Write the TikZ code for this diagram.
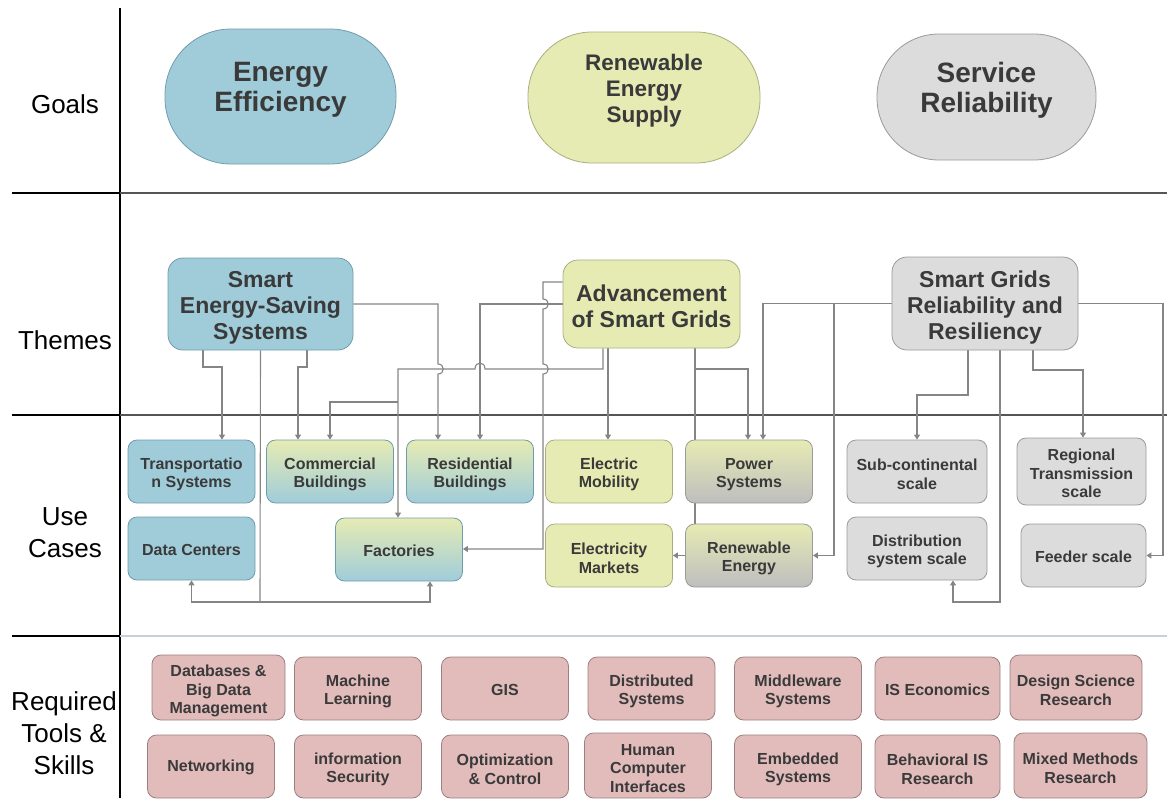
\documentclass[tikz,border=0pt]{standalone}
\usepackage{fontspec}
\setmainfont{Liberation Sans}
\usetikzlibrary{arrows.meta}
\pgfdeclarelayer{background}
\pgfsetlayers{background,main}
\definecolor{cblue}{HTML}{A0CCDA}
\definecolor{cblueB}{HTML}{6F9CAC}
\definecolor{cyel}{HTML}{E6EBB3}
\definecolor{cyelB}{HTML}{A9AE80}
\definecolor{cgray}{HTML}{DCDCDC}
\definecolor{cgrayB}{HTML}{9A9A9A}
\definecolor{cgrayD}{HTML}{BEBEBE}
\definecolor{cpink}{HTML}{E2BBBB}
\definecolor{cpinkB}{HTML}{9C8080}
\definecolor{ctext}{HTML}{3A3A3A}
\definecolor{cline}{HTML}{858585}
\definecolor{csep}{HTML}{555555}
\definecolor{csepL}{HTML}{C5D0DA}
% shape node + its text node (text shifted by #6)
\newcommand{\bx}[7]{%
  \node[#1] (#2) at (#3,#4) {};
  \node[#5] (#2t) at (#3,#4+#6) {#7};}
\begin{document}
\begin{tikzpicture}[x=1pt,y=-1pt,
  box/.style={draw, rounded corners=9pt, inner sep=0pt, minimum width=127pt, minimum height=63pt, line width=0.8pt},
  bluebox/.style={box, fill=cblue, draw=cblueB},
  yelbox/.style={box, fill=cyel, draw=cyelB},
  graybox/.style={box, fill=cgray, draw=cgrayB},
  ybbox/.style={box, top color=cyel, bottom color=cblue, draw=cblueB},
  ygbox/.style={box, top color=cyel, bottom color=cgrayD, draw=cgrayB},
  pinkbox/.style={box, fill=cpink, draw=cpinkB},
  theme/.style={box, rounded corners=15pt},
  goal/.style={draw, inner sep=0pt, line width=0.8pt},
  smalltxt/.style={inner sep=0pt, align=center, text=ctext, font=\bfseries\fontsize{16}{18.5}\selectfont},
  themetxt/.style={inner sep=0pt, align=center, text=ctext, font=\bfseries\fontsize{23}{26}\selectfont},
  goaltxt/.style={inner sep=0pt, align=center, text=ctext, font=\bfseries\fontsize{28}{30}\selectfont},
  goaltxts/.style={inner sep=0pt, align=center, text=ctext, font=\bfseries\fontsize{22.5}{26}\selectfont},
  rowlabel/.style={align=center, font=\fontsize{26}{32}\selectfont},
  conn/.style={draw=cline, line width=1.1pt, -{Triangle[length=5pt,width=6pt]}},
  link/.style={draw=cline, line width=1.1pt}
]
\useasboundingbox (0,0) rectangle (1167,798);

% row labels
\node[rowlabel] (lgoals) at (65,104) {Goals};
\node[rowlabel] (lthemes) at (65,340) {Themes};
\node[rowlabel] (luse) at (65,533) {Use\\Cases};
\node[rowlabel] (ltools) at (64,733) {Required\\Tools \&\\Skills};

% goals
\bx{goal, fill=cblue, draw=cblueB, minimum width=231pt, minimum height=135pt, rounded corners=66pt}{g1}{280.5}{96.5}{goaltxt}{-7}{Energy\\Efficiency}
\bx{goal, fill=cyel, draw=cyelB, minimum width=232pt, minimum height=131pt, rounded corners=64pt}{g2}{644}{97.5}{goaltxts}{-7}{Renewable\\Energy\\Supply}
\bx{goal, fill=cgray, draw=cgrayB, minimum width=219pt, minimum height=126pt, rounded corners=62pt}{g3}{986.5}{97}{goaltxt}{-7}{Service\\Reliability}

% themes
\bx{theme, fill=cblue, draw=cblueB, minimum width=185pt, minimum height=92pt}{t1}{260.5}{304}{themetxt}{4}{Smart\\Energy-Saving\\Systems}
\bx{theme, fill=cyel, draw=cyelB, minimum width=177pt, minimum height=88pt}{t2}{651.5}{304}{themetxt}{2}{Advancement\\of Smart Grids}
\bx{theme, fill=cgray, draw=cgrayB, minimum width=186pt, minimum height=93pt}{t3}{985}{303.5}{themetxt}{4}{Smart Grids\\Reliability and\\Resiliency}

% use cases
\bx{bluebox}{u1}{191.5}{471.5}{smalltxt}{3}{Transportatio\\n Systems}
\bx{ybbox}{u2}{330}{471.5}{smalltxt}{3}{Commercial\\Buildings}
\bx{ybbox}{u3}{470}{471.5}{smalltxt}{3}{Residential\\Buildings}
\bx{yelbox}{u4}{609}{471.5}{smalltxt}{3}{Electric\\Mobility}
\bx{ygbox}{u5}{749}{471.5}{smalltxt}{3}{Power\\Systems}
\bx{graybox, minimum width=140pt}{u6}{917}{471.5}{smalltxt}{3}{Sub-continental\\scale}
\bx{graybox, minimum width=129pt, minimum height=67pt}{u7}{1081.5}{471.5}{smalltxt}{2}{Regional\\Transmission\\scale}
\bx{bluebox}{u8}{191.5}{548.5}{smalltxt}{1}{Data Centers}
\bx{ybbox}{u9}{399}{549.5}{smalltxt}{1}{Factories}
\bx{yelbox}{u10}{609}{555.5}{smalltxt}{3}{Electricity\\Markets}
\bx{ygbox}{u11}{749}{555.5}{smalltxt}{3}{Renewable\\Energy}
\bx{graybox, minimum width=140pt}{u12}{917}{548.5}{smalltxt}{3}{Distribution\\system scale}
\bx{graybox, minimum width=125pt}{u13}{1083.5}{555.5}{smalltxt}{1}{Feeder scale}

% tools & skills
\bx{pinkbox, minimum width=133pt, minimum height=65pt}{s1}{218.5}{687.5}{smalltxt}{3.5}{Databases \&\\Big Data\\Management}
\bx{pinkbox}{s2}{358}{688.5}{smalltxt}{3}{Machine\\Learning}
\bx{pinkbox}{s3}{505}{688.5}{smalltxt}{1}{GIS}
\bx{pinkbox}{s4}{651.5}{688.5}{smalltxt}{3}{Distributed\\Systems}
\bx{pinkbox}{s5}{798}{688.5}{smalltxt}{3}{Middleware\\Systems}
\bx{pinkbox, minimum width=125pt}{s6}{937.5}{688.5}{smalltxt}{1}{IS Economics}
\bx{pinkbox, minimum width=132pt, minimum height=65pt}{s7}{1076}{687.5}{smalltxt}{3}{Design Science\\Research}
\bx{pinkbox}{s8}{211}{766.5}{smalltxt}{1}{Networking}
\bx{pinkbox}{s9}{358}{766.5}{smalltxt}{3}{information\\Security}
\bx{pinkbox}{s10}{505}{766.5}{smalltxt}{3}{Optimization\\\& Control}
\bx{pinkbox, minimum height=65pt}{s11}{648}{765.5}{smalltxt}{3}{Human\\Computer\\Interfaces}
\bx{pinkbox}{s12}{798}{766.5}{smalltxt}{3}{Embedded\\Systems}
\bx{pinkbox, minimum width=125pt}{s13}{937.5}{766.5}{smalltxt}{3}{Behavioral IS\\Research}
\bx{pinkbox, minimum width=133pt, minimum height=65pt}{s14}{1080.5}{765.5}{smalltxt}{3}{Mixed Methods\\Research}

\coordinate (tr) at (260,602);
\coordinate (j1) at (398,402);

\begin{pgfonlayer}{background}
% section lines
\draw[black, line width=2pt] (120,8) -- (120,798);
\draw[black, line width=2pt] (12,193) -- (120,193);
\draw[black, line width=2pt] (12,415) -- (120,415);
\draw[black, line width=2pt] (12,636) -- (120,636);
\draw[csep, line width=1.5pt] (120,193) -- (1167,193);
\draw[csep, line width=1.5pt] (120,415) -- (1167,415);
\draw[csepL, line width=1.5pt] (120,636) -- (1167,636);

% Smart Energy-Saving Systems
\draw[conn] (203,0 |- t1.south) -- (203,367) -- (222,367) -- (222,0 |- u1.north);
\draw[conn] (307,0 |- t1.south) -- (307,367) -- (298,367) -- (298,0 |- u2.north);
\draw[link] (t1.south) -- (tr);
\draw[conn] (tr) -| (u8.south);
\draw[conn] (tr) -| (430,0 |- u9.south);
\draw[conn] (t1.east) -- (438,304) -- (438,364) .. controls (445,364) and (445,374) .. (438,374) -- (438,0 |- u3.north);

% Advancement of Smart Grids
\draw[conn] (t2.west) -- (480,304) -- (480,0 |- u3.north);
\draw[conn] (t2.west |- 0,282) -- (543,282) -- (543,299) .. controls (550,299) and (550,309) .. (543,309)
  -- (543,364) .. controls (550,364) and (550,374) .. (543,374) -- (543,549) -- (u9.east |- 0,549);
\draw[conn] (603,0 |- t2.south) -- (603,369) -- (485,369) .. controls (485,361) and (475,361) .. (475,369)
  -- (398,369) -- (398,0 |- u9.north);
\draw[conn] (j1) -- (330,402) -- (u2.north);
\draw[conn] (608,0 |- t2.south) -- (608,0 |- u4.north);
\draw[conn] (695,0 |- t2.south) -- (695,369) -- (748,369) -- (748,0 |- u5.north);
\draw[link] (695,369) -- (695,0 |- u11.north);
\draw[conn] (u11.west) -- (u10.east);

% Smart Grids Reliability and Resiliency
\draw[conn] (t3.west) -- (763,303.5) -- (763,0 |- u5.north);
\draw[conn] (834,303.5) |- (u11.east);
\draw[conn] (968,0 |- t3.south) -- (968,395) -- (917,395) -- (u6.north);
\draw[conn] (1000,0 |- t3.south) -- (1000,602) -- (953,602) -- (953,0 |- u12.south);
\draw[conn] (1033,0 |- t3.south) -- (1033,370) -- (1083,370) -- (1083,0 |- u7.north);
\draw[conn] (t3.east) -- (1163,303.5) |- (u13.east);
\end{pgfonlayer}
\end{tikzpicture}
\end{document}
